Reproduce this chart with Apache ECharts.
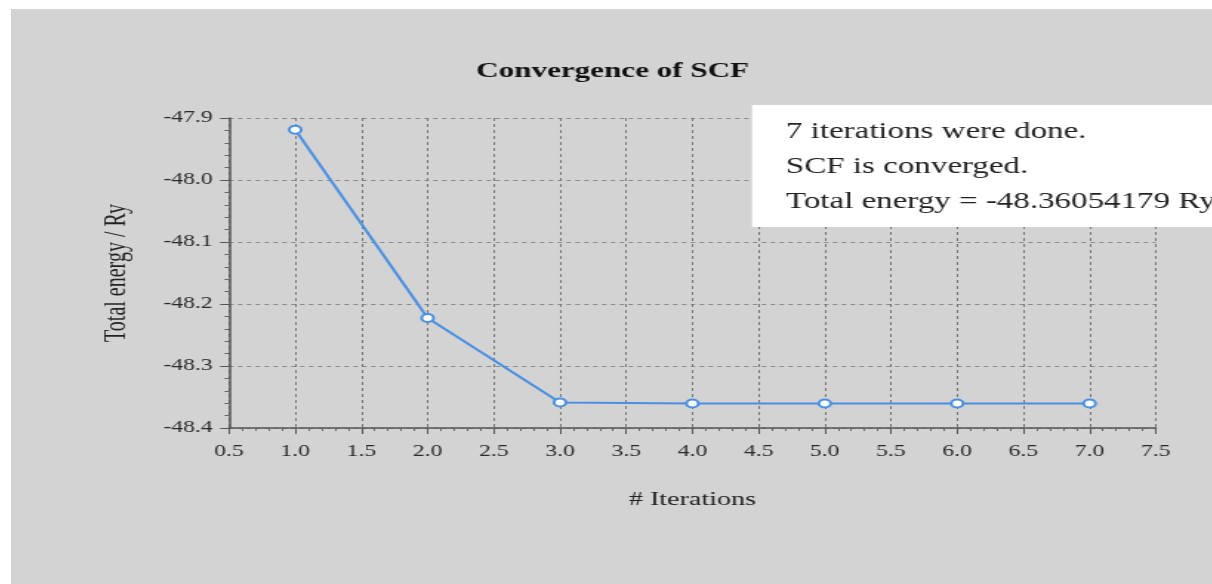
<!DOCTYPE html>
<html><head><meta charset="utf-8">
<script src="https://cdn.jsdelivr.net/npm/echarts@6/dist/echarts.min.js"></script>
<style>
html,body{margin:0;padding:0;background:#ffffff;overflow:hidden}
#wrap{position:absolute;left:11px;top:9px;width:1201px;height:575px;overflow:hidden;background:#d3d3d3}
#c{width:812px;height:575px;transform:scaleX(1.48);transform-origin:0 0}
</style>
</head><body><div id="wrap"><div id="c"></div></div>
<script>
const iterations = [1, 2, 3, 4, 5, 6, 7];
const energies = [-47.919, -48.2225, -48.359, -48.3605, -48.3605, -48.3605, -48.36054179];
const infoLines = ['7 iterations were done.', 'SCF is converged.', 'Total energy = -48.36054179 Ry'];
const chartTitle = 'Convergence of SCF';
const xName = '# Iterations';
const yName = 'Total energy / Ry';
const serif = '"Liberation Serif","DejaVu Serif",serif';
const chart = echarts.init(document.getElementById('c'));
chart.setOption({
  backgroundColor: '#d3d3d3',
  animation: false,
  title: { text: chartTitle, left: 401.5, top: 47, textAlign: 'center',
    textStyle: { fontFamily: serif, fontSize: 21, fontWeight: 'bold', color: '#111' } },
  grid: { left: 147.3, right: 38.5, top: 109, bottom: 156 },
  xAxis: { type: 'value', min: 0.5, max: 7.5, interval: 0.5,
    name: xName, nameLocation: 'middle', nameGap: 63,
    nameTextStyle: { fontFamily: serif, fontSize: 19, color: '#222' },
    axisLine: { lineStyle: { color: '#555', width: 1.5 } },
    axisTick: { lineStyle: { color: '#555' }, length: 6 },
    minorTick: { show: true, splitNumber: 5, length: 3, lineStyle: { color: '#666' } },
    axisLabel: { fontFamily: serif, fontSize: 16, color: '#2a2a2a', margin: 16, formatter: v => v.toFixed(1) },
    splitLine: { show: true, lineStyle: { color: '#777', type: [3, 3], width: 1 } } },
  yAxis: { type: 'value', min: -48.4, max: -47.9, interval: 0.1,
    name: yName, nameLocation: 'middle', nameGap: 65.5, nameRotate: 90,
    nameTextStyle: { fontFamily: serif, fontSize: 20, color: '#222' },
    axisLine: { show: true, lineStyle: { color: '#555', width: 1.5 } },
    axisTick: { show: true, lineStyle: { color: '#555' }, length: 6 },
    minorTick: { show: true, splitNumber: 5, length: 3, lineStyle: { color: '#666' } },
    axisLabel: { fontFamily: serif, fontSize: 16, color: '#2a2a2a', margin: 11, formatter: v => v.toFixed(1) },
    splitLine: { show: true, lineStyle: { color: '#888', type: [3, 3], width: 1 } } },
  series: [{ type: 'line', data: iterations.map((x, i) => [x, energies[i]]),
    symbol: 'circle', symbolSize: 8, showAllSymbol: true,
    lineStyle: { color: '#4a90e2', width: 2 },
    itemStyle: { color: '#ffffff', borderColor: '#4a90e2', borderWidth: 2 } }],
  graphic: [
    { type: 'rect', left: 500.7, top: 96, shape: { width: 330, height: 122 }, style: { fill: '#ffffff' }, z: 100 },
    { type: 'text', left: 523.6, top: 112, z: 101, style: { text: infoLines[0], font: '22.3px ' + serif, fill: '#222' } },
    { type: 'text', left: 523.6, top: 147, z: 101, style: { text: infoLines[1], font: '22.3px ' + serif, fill: '#222' } },
    { type: 'text', left: 523.6, top: 182, z: 101, style: { text: infoLines[2], font: '22.3px ' + serif, fill: '#222' } }
  ]
});
</script></body></html>
